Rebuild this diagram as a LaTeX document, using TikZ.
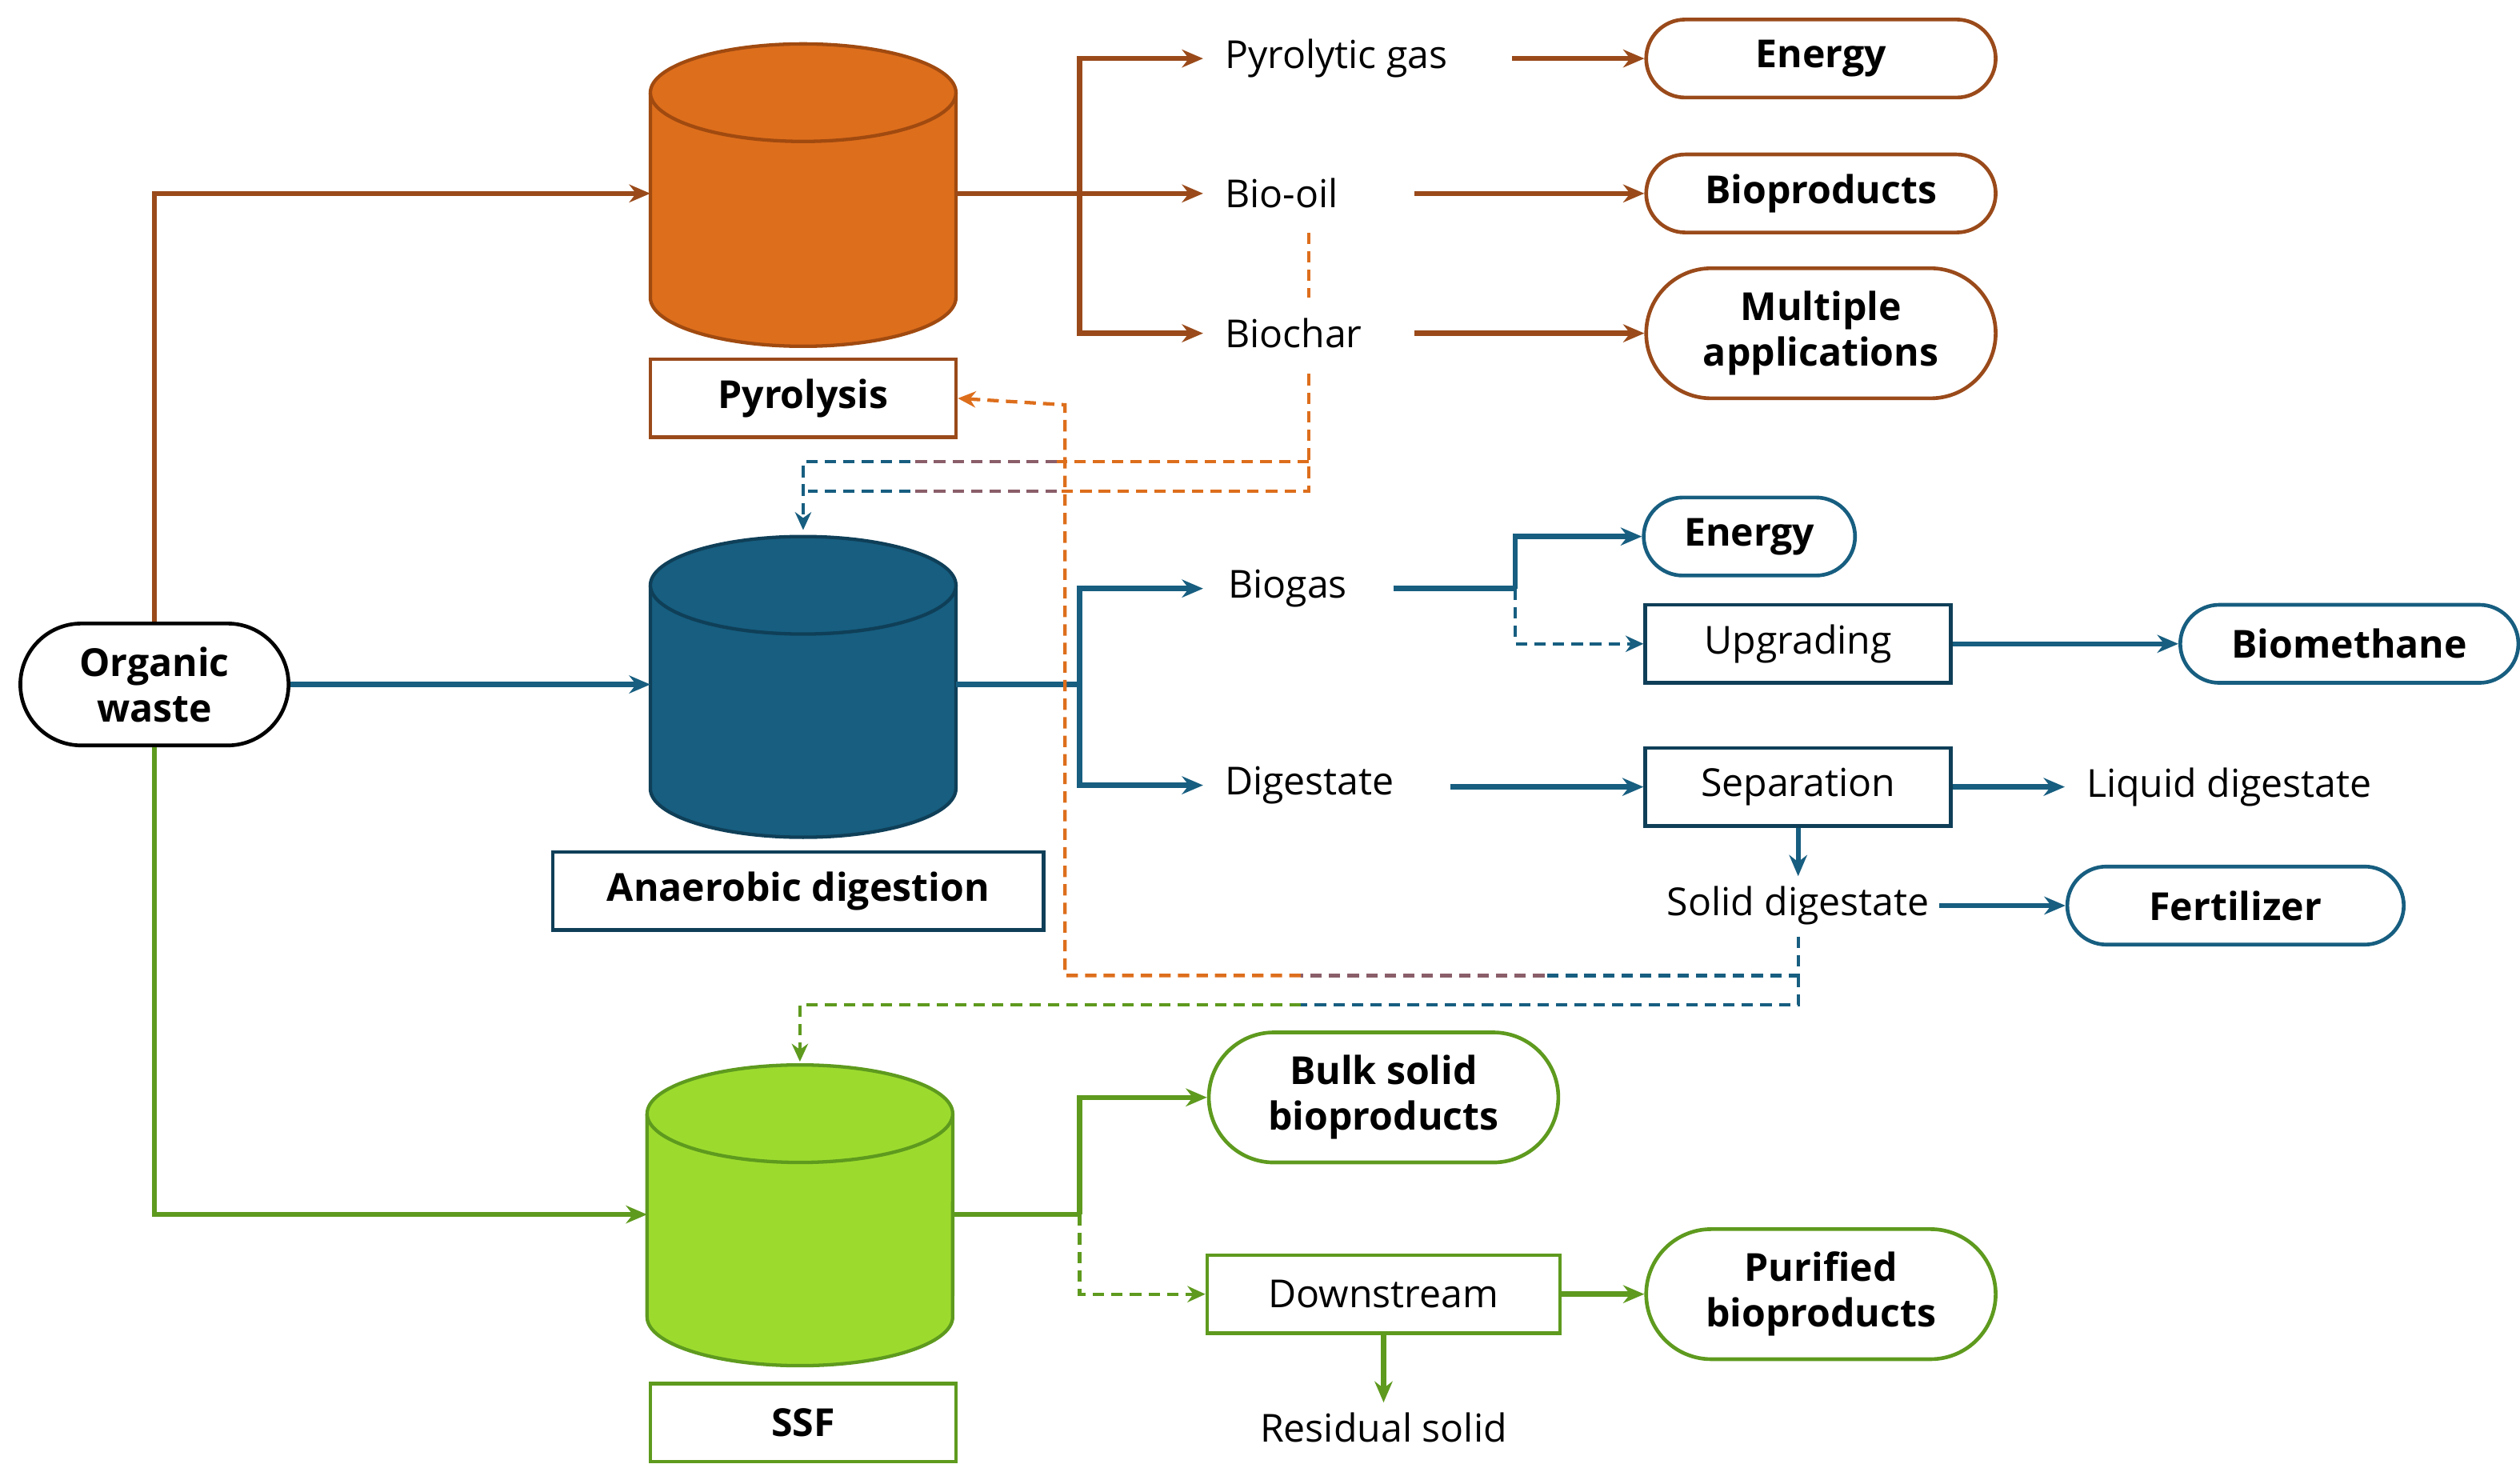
\documentclass[tikz,border=0pt]{standalone}
\usepackage{fontspec}
\setmainfont{Open Sans}
\usetikzlibrary{arrows.meta}
\definecolor{brn}{HTML}{9A4A1A}
\definecolor{org}{HTML}{DD6E1C}
\definecolor{orgd}{HTML}{A04A10}
\definecolor{blu}{HTML}{175E80}
\definecolor{blud}{HTML}{0F3F58}
\definecolor{grn}{HTML}{9CDB2E}
\definecolor{grnd}{HTML}{5E9A1E}
\definecolor{mix}{HTML}{8A5E6A}
\begin{document}
\begin{tikzpicture}[x=0.02cm,y=-0.02cm,
  every node/.style={font=\fontsize{13.5}{16}\selectfont},
  ar/.style={line width=1.8pt,-{Stealth[length=2.6mm,width=2.2mm]}},
  ln/.style={line width=1.8pt},
  da/.style={line width=1.2pt,dashed,dash pattern=on 4pt off 2.5pt},
  pill/.style={draw,line width=1.3pt,rounded corners=0.48cm,minimum width=4.3cm,minimum height=0.96cm,font=\fontsize{13.5}{16}\selectfont\bfseries,align=center,inner sep=1pt},
  pill2/.style={pill,rounded corners=0.8cm,minimum height=1.6cm},
  box/.style={draw,line width=1.3pt,minimum width=3.76cm,minimum height=0.96cm,inner sep=1pt},
  txt/.style={anchor=west,inner sep=0pt}]
\useasboundingbox (0,0) rectangle (1550,905);
% cylinders
\newcommand{\mycyl}[5]{%
 \draw[fill=#4,draw=#5,line width=1.2pt] (#1-94,#2) -- (#1-94,#3) arc[start angle=180,end angle=360,x radius=1.88cm,y radius=0.6cm] -- (#1+94,#2);
 \draw[fill=#4,draw=#5,line width=1.2pt] (#1,#2) ellipse[x radius=1.88cm,y radius=0.6cm];}
\mycyl{494}{57}{183}{org}{orgd}
\mycyl{494}{360}{485}{blu}{blud}
\mycyl{492}{685}{810}{grn}{grnd}
\coordinate (pyin) at (400,119); \coordinate (pyout) at (588,119);
\coordinate (adin) at (400,421); \coordinate (adout) at (588,421);
\coordinate (ssin) at (398,747); \coordinate (ssout) at (585,747);
\coordinate (adtop) at (494,326); \coordinate (sstop) at (492,653);
% labels under cylinders
\node[box,draw=brn,font=\fontsize{13.5}{16}\selectfont\bfseries] (pyl) at (494,245) {Pyrolysis};
\node[box,draw=blud,minimum width=6.04cm,font=\fontsize{13.5}{16}\selectfont\bfseries] (adl) at (491,548) {Anaerobic digestion};
\node[box,draw=grnd,font=\fontsize{13.5}{16}\selectfont\bfseries] (ssl) at (494,875) {SSF};
% organic waste
\node[pill,draw=black,minimum width=3.3cm,minimum height=1.5cm,rounded corners=0.75cm] (ow) at (95,421) {Organic\\waste};
\draw[ar,brn] (ow.north) |- (pyin);
\draw[ar,blu] (ow.east) -- (adin);
\draw[ar,grnd] (ow.south) |- (ssin);
% pyrolysis branch
\coordinate (pb) at (664,119);
\node[txt] (pg) at (753,36) {Pyrolytic gas};
\node[txt] (bo) at (753,119) {Bio-oil};
\node[txt] (bc) at (753,205) {Biochar};
\draw[ln,brn] (pyout) -- (pb);
\draw[ar,brn] (pb) |- (740,36);
\draw[ar,brn] (pb) -- (740,119);
\draw[ar,brn] (pb) |- (740,205);
\node[pill,draw=brn] (e1) at (1120,36) {Energy};
\node[pill,draw=brn] (bp) at (1120,119) {Bioproducts};
\node[pill2,draw=brn] (ma) at (1120,205) {Multiple\\applications};
\draw[ar,brn] (930,36) -- (e1.west);
\draw[ar,brn] (870,119) -- (bp.west);
\draw[ar,brn] (870,205) -- (ma.west);
\draw[da,org] (805,143) -- (805,183);
% biochar to AD
\draw[da,org] (805,230) -- (805,302) -- (650,302);
\draw[da,mix] (650,302) -- (560,302);
\draw[da,blu] (560,302) -- (497,302);
\draw[da,org] (805,284) -- (650,284);
\draw[da,mix] (650,284) -- (560,284);
\draw[da,blu,-{Stealth[length=2.2mm,width=2mm]}] (560,284) -- (494,284) -- (adtop);
% AD branch
\coordinate (ab) at (664,421);
\draw[ln,blu] (adout) -- (ab);
\node[txt] (bg) at (755,362) {Biogas};
\node[txt] (dg) at (753,483) {Digestate};
\draw[ar,blu] (ab) |- (740,362);
\draw[ar,blu] (ab) |- (740,483);
\node[pill,draw=blu,minimum width=2.6cm] (e2) at (1076,330) {Energy};
\node[box,draw=blud] (up) at (1106,396) {Upgrading};
\node[pill,draw=blu,minimum width=4.16cm] (bm) at (1445,396) {Biomethane};
\draw[ln,blu] (857,362) -- (932,362);
\draw[ar,blu] (932,362) |- (e2.west);
\draw[da,blu,-{Stealth[length=2.2mm,width=2mm]}] (932,362) |- (up.west);
\draw[ar,blu] (up.east) -- (bm.west);
\node[box,draw=blud] (sep) at (1106,484) {Separation};
\draw[ar,blu] (892,484) -- (sep.west);
\node[txt] (ld) at (1283,484) {Liquid digestate};
\draw[ar,blu] (sep.east) -- (1270,484);
\node (sd) at (1106,557) {Solid digestate};
\draw[ar,blu] (sep.south) -- (sd.north);
\node[pill,draw=blu,minimum width=4.14cm] (fe) at (1375,557) {Fertilizer};
\draw[ar,blu] (sd.east) -- (fe.west);
% solid digestate to pyrolysis and SSF
\draw[da,blu] (1106,576) -- (1106,600) -- (950,600);
\draw[da,mix] (950,600) -- (800,600);
\draw[da,org,-{Stealth[length=2.2mm,width=2mm]}] (800,600) -- (655,600) -- (655,249) -- (pyl.east);
\draw[da,blu] (1106,600) -- (1106,618) -- (800,618);
\draw[da,grnd,-{Stealth[length=2.2mm,width=2mm]}] (800,618) -- (492,618) -- (sstop);
% SSF branch
\coordinate (sb) at (664,747);
\draw[ln,grnd] (ssout) -- (sb);
\node[pill2,draw=grnd] (bs) at (851,675) {Bulk solid\\bioproducts};
\draw[ar,grnd] (sb) |- (bs.west);
\node[box,draw=grnd,minimum width=4.34cm] (ds) at (851,796) {Downstream};
\draw[da,grnd,-{Stealth[length=2.2mm,width=2mm]}] (sb) |- (ds.west);
\node[pill2,draw=grnd] (pu) at (1120,796) {Purified\\bioproducts};
\draw[ar,grnd] (ds.east) -- (pu.west);
\node (rs) at (851,878) {Residual solid};
\draw[ar,grnd] (ds.south) -- (rs.north);
\end{tikzpicture}
\end{document}
